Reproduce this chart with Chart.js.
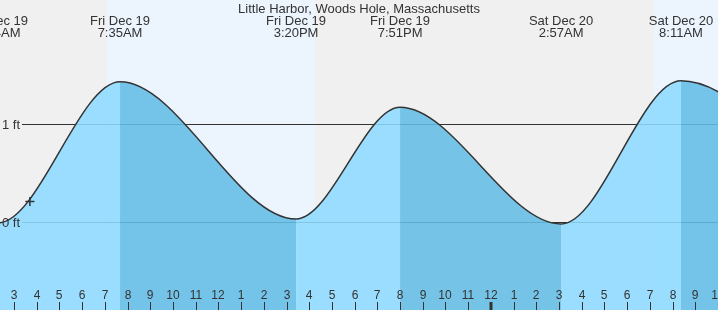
<!DOCTYPE html>
<html>
<head>
<meta charset="utf-8">
<script src="https://cdn.jsdelivr.net/npm/chart.js@4.4.0/dist/chart.umd.min.js"></script>
<style>
  html, body { margin: 0; padding: 0; background: #f0f0f0; }
  #wrap { width: 718px; height: 310px; position: relative; }
</style>
</head>
<body>
<div id="wrap"><canvas id="tide"></canvas></div>
<script>
// ====== DATA (hours counted from Fri Dec 19 00:00)
const chartTitle = 'Little Harbor, Woods Hole, Massachusetts';
// first and last extremes sit just off the picture, they only shape the curve ends
const tideHours = [-4.2, 2.3, 7.67, 15.42, 20.0, 27.09, 32.37, 40.3];
const tideFeet  = [1.25, -0.01, 1.43, 0.03, 1.17, -0.02, 1.44, 0.0];
const tideDays  = ['', 'Fri Dec 19', 'Fri Dec 19', 'Fri Dec 19', 'Fri Dec 19', 'Sat Dec 20', 'Sat Dec 20', ''];
const tideTimes = ['', '2:14AM', '7:35AM', '3:20PM', '7:51PM', '2:57AM', '8:11AM', ''];

const sunriseHours = [7.08, 31.18];
const sunsetHours  = [16.27, 40.3];

const nowHour = 3.70;
const nowFeet = 0.21;

const hourLabels = ['12', '1', '2', '3', '4', '5', '6', '7', '8', '9', '10', '11'];
const feetTicks  = [0, 1];
const feetLabels = ['0 ft', '1 ft'];

// ====== STYLE
const FONT = '"Liberation Sans", Arial, sans-serif';
const INK = '#333';
const RISE = 'rgba(141,218,255,0.88)';
const FALL = 'rgba(99,188,229,0.88)';

// ====== background bands, level lines, labels
const tideDecor = {
  id: 'tideDecor',
  beforeDatasetsDraw(chart) {
    const { ctx, chartArea: a, scales: { x, y } } = chart;
    ctx.save();
    ctx.fillStyle = '#f0f0f0';
    ctx.fillRect(a.left, a.top, a.width, a.height);
    ctx.fillStyle = '#ecf5fe';
    sunriseHours.forEach((r, i) => {
      const x0 = x.getPixelForValue(r), x1 = x.getPixelForValue(sunsetHours[i]);
      ctx.fillRect(x0, a.top, x1 - x0, a.height);
    });
    ctx.strokeStyle = INK;
    ctx.lineWidth = 1;
    feetTicks.forEach(v => {
      const py = Math.round(y.getPixelForValue(v)) + 0.5;
      ctx.beginPath();
      ctx.moveTo(22, py);
      ctx.lineTo(a.right, py);
      ctx.stroke();
    });
    ctx.restore();
  },
  afterDatasetsDraw(chart) {
    const { ctx, chartArea: a, scales: { x, y } } = chart;
    ctx.save();
    ctx.fillStyle = INK;
    ctx.strokeStyle = INK;

    // level labels
    ctx.font = '13px ' + FONT;
    ctx.textAlign = 'left';
    ctx.textBaseline = 'middle';
    feetTicks.forEach((v, i) => ctx.fillText(feetLabels[i], 2, y.getPixelForValue(v) + 1));

    // hour ticks along the bottom
    ctx.font = '12px ' + FONT;
    ctx.textAlign = 'center';
    for (let h = Math.ceil(x.min); h <= Math.floor(x.max); h++) {
      const px = Math.round(x.getPixelForValue(h));
      ctx.fillText(hourLabels[((h % 12) + 12) % 12], px, 296);
      const thick = h % 24 === 0;
      ctx.lineWidth = thick ? 3 : 1;
      ctx.beginPath();
      ctx.moveTo(thick ? px : px + 0.5, 302);
      ctx.lineTo(thick ? px : px + 0.5, a.bottom);
      ctx.stroke();
    }

    // title and high/low labels
    ctx.font = '13px ' + FONT;
    ctx.textBaseline = 'alphabetic';
    ctx.fillText(chartTitle, (a.left + a.right) / 2, 12.5);
    tideHours.forEach((h, i) => {
      if (!tideTimes[i]) return;
      const px = x.getPixelForValue(h);
      ctx.fillText(tideDays[i], px, 25);
      ctx.fillText(tideTimes[i], px, 37);
    });
    ctx.restore();
  }
};

// ====== CHART
new Chart(document.getElementById('tide'), {
  type: 'line',
  data: {
    datasets: [
      {
        data: [{ x: nowHour, y: nowFeet }],
        showLine: false,
        fill: false,
        pointStyle: 'cross',
        pointRadius: 4.5,
        pointBorderWidth: 1.5,
        pointBorderColor: INK
      },
      {
        data: tideHours.map((h, i) => ({ x: h, y: tideFeet[i] })),
        borderColor: INK,
        borderWidth: 1.5,
        pointRadius: 0,
        cubicInterpolationMode: 'monotone',
        fill: 'start',
        backgroundColor: RISE,
        segment: {
          backgroundColor: c => c.p1.parsed.y > c.p0.parsed.y ? RISE : FALL
        }
      }
    ]
  },
  options: {
    responsive: true,
    maintainAspectRatio: false,
    animation: false,
    layout: { padding: 0, autoPadding: false },
    plugins: { legend: { display: false }, tooltip: { enabled: false } },
    scales: {
      x: {
        type: 'linear',
        display: false,
        bounds: 'data',
        // set the window here so the off-picture extremes still feed the spline
        afterDataLimits: s => { s.min = 2.384; s.max = 34.0; }
      },
      y: { display: false, min: -0.898, max: 2.265 }
    }
  },
  plugins: [tideDecor]
});
</script>
</body>
</html>
